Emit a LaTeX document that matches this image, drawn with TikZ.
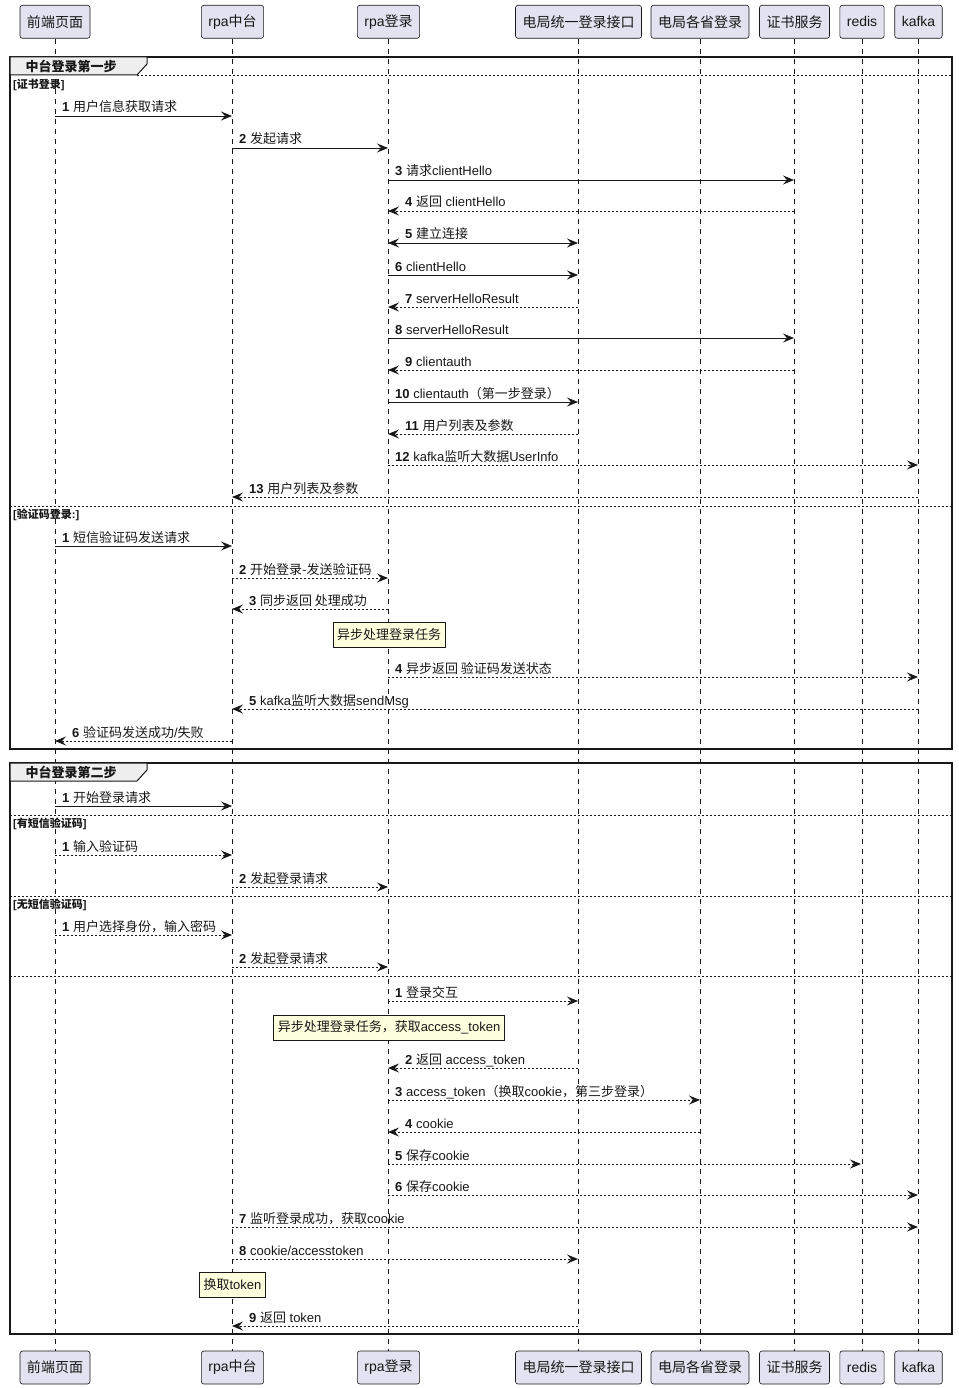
\documentclass[tikz,border=0pt]{standalone}
\usepackage{fontspec}
\setmainfont{Liberation Sans}
\newfontfamily\cjk{Noto Sans CJK SC}
\usetikzlibrary{arrows.meta}
\newcommand\C[1]{{\cjk #1}}
\definecolor{ink}{HTML}{181818}
\definecolor{partfill}{HTML}{E2E2F0}
\definecolor{notefill}{HTML}{FEFFDD}
\definecolor{tabfill}{HTML}{EEEEEE}
\tikzset{
 tip/.tip={Stealth[length=11pt,width=9pt,inset=4pt]},
 part/.style={draw=ink, fill=partfill, rounded corners=2.5pt, minimum height=33pt, inner xsep=7pt, inner ysep=0pt, font=\fontsize{14}{16}\selectfont, line width=0.6pt, text=ink},
 life/.style={draw=ink, line width=0.5pt, dash pattern=on 5pt off 5pt},
 syn/.style={draw=ink, line width=0.9pt, -tip},
 both/.style={draw=ink, line width=0.9pt, tip-tip},
 ret/.style={syn, dash pattern=on 2pt off 2pt},
 lbl/.style={anchor=base west, inner sep=0pt, font=\fontsize{13}{15}\selectfont, text=ink},
 frm/.style={draw=ink, line width=1.5pt},
 tabshape/.style={draw=ink, fill=tabfill, line width=1pt},
 tabtext/.style={inner sep=0pt, font=\fontsize{13}{15}\selectfont\bfseries, text=ink},
 sepline/.style={draw=ink, line width=0.7pt, dash pattern=on 2pt off 2pt},
 guard/.style={anchor=west, inner sep=0pt, font=\fontsize{11}{13}\selectfont\bfseries, text=ink},
 notebox/.style={draw=ink, fill=notefill, line width=0.6pt, minimum height=25pt, inner xsep=4pt, inner ysep=0pt, font=\fontsize{13}{15}\selectfont, text=ink}
}
% \M{name}{x from}{x to}{y}{style}{label x}{text}
\newcommand\M[7]{%
 \coordinate (#1s) at (#2,#4);
 \coordinate (#1e) at (#3,#4);
 \draw[#5] (#1s) -- (#1e);
 \node[lbl] (#1l) at (#6,#4-4) {#7};}
\begin{document}
\begin{tikzpicture}[x=1pt,y=-1pt]
\useasboundingbox (0,0) rectangle (958,1388);
% participants
\foreach \n/\x/\t in {p1/55/\C{前端页面}, p2/232.5/rpa\C{中台}, p3/388.5/rpa\C{登录}, p4/578.5/\C{电局统一登录接口}, p5/700/\C{电局各省登录}, p6/794.5/\C{证书服务}, p7/862/redis, p8/918.5/kafka}{
 \node[part] (\n) at (\x,21.8) {\t};
 \node[part] (\n b) at (\x,1367.5) {\t};
 \draw[life] (\n.south) -- (\n b.north);
}
% frame 1
\draw[frm] (10,57) rectangle (952,749);
\draw[tabshape] (10,57) -- (147,57) -- (147,64) -- (137,75) -- (10,75) -- cycle;
\node[tabtext] (t1) at (71,66) {\C{中台登录第一步}};
\coordinate (s0a) at (137,75); \coordinate (s0b) at (952,75);
\draw[sepline] (s0a) -- (s0b);
\node[guard] (g1) at (13,85) {[\C{证书登录}]};
\M{a1}{55}{232}{116}{syn}{62}{\textbf{1} \C{用户信息获取请求}}
\M{a2}{232}{388}{148}{syn}{239}{\textbf{2} \C{发起请求}}
\M{a3}{388}{794}{180}{syn}{395}{\textbf{3} \C{请求}clientHello}
\M{a4}{794}{388}{211}{ret}{405}{\textbf{4} \C{返回} clientHello}
\M{a5}{388}{578}{243}{both}{405}{\textbf{5} \C{建立连接}}
\M{a6}{388}{578}{275}{syn}{395}{\textbf{6} clientHello}
\M{a7}{578}{388}{307}{ret}{405}{\textbf{7} serverHelloResult}
\M{a8}{388}{794}{338}{syn}{395}{\textbf{8} serverHelloResult}
\M{a9}{794}{388}{370}{ret}{405}{\textbf{9} clientauth}
\M{a10}{388}{578}{402}{syn}{395}{\textbf{10} clientauth\C{（第一步登录）}}
\M{a11}{578}{388}{434}{ret}{405}{\textbf{11} \C{用户列表及参数}}
\M{a12}{388}{918}{465}{ret}{395}{\textbf{12} kafka\C{监听大数据}UserInfo}
\M{a13}{918}{232}{497}{ret}{249}{\textbf{13} \C{用户列表及参数}}
\coordinate (s1a) at (10,506); \coordinate (s1b) at (952,506);
\draw[sepline] (s1a) -- (s1b);
\node[guard] (g2) at (13,515) {[\C{验证码登录}:]};
\M{b1}{55}{232}{546}{syn}{62}{\textbf{1} \C{短信验证码发送请求}}
\M{b2}{232}{388}{578}{ret}{239}{\textbf{2} \C{开始登录-发送验证码}}
\M{b3}{388}{232}{609}{ret}{249}{\textbf{3} \C{同步返回 处理成功}}
\node[notebox] (n1) at (389,635) {\C{异步处理登录任务}};
\M{b4}{388}{918}{677}{ret}{395}{\textbf{4} \C{异步返回 验证码发送状态}}
\M{b5}{918}{232}{709}{ret}{249}{\textbf{5} kafka\C{监听大数据}sendMsg}
\M{b6}{232}{55}{741}{ret}{72}{\textbf{6} \C{验证码发送成功}/\C{失败}}
% frame 2
\draw[frm] (10,763) rectangle (952,1334);
\draw[tabshape] (10,763) -- (147,763) -- (147,770) -- (137,781) -- (10,781) -- cycle;
\node[tabtext] (t2) at (71,772) {\C{中台登录第二步}};
\M{c1}{55}{232}{806}{syn}{62}{\textbf{1} \C{开始登录请求}}
\coordinate (s2a) at (10,815); \coordinate (s2b) at (952,815);
\draw[sepline] (s2a) -- (s2b);
\node[guard] (g3) at (13,824) {[\C{有短信验证码}]};
\M{c2}{55}{232}{855}{ret}{62}{\textbf{1} \C{输入验证码}}
\M{c3}{232}{388}{887}{ret}{239}{\textbf{2} \C{发起登录请求}}
\coordinate (s3a) at (10,896); \coordinate (s3b) at (952,896);
\draw[sepline] (s3a) -- (s3b);
\node[guard] (g4) at (13,905) {[\C{无短信验证码}]};
\M{c4}{55}{232}{935}{ret}{62}{\textbf{1} \C{用户选择身份，输入密码}}
\M{c5}{232}{388}{967}{ret}{239}{\textbf{2} \C{发起登录请求}}
\coordinate (s4a) at (10,976); \coordinate (s4b) at (952,976);
\draw[sepline] (s4a) -- (s4b);
\M{c6}{388}{578}{1001}{ret}{395}{\textbf{1} \C{登录交互}}
\node[notebox] (n2) at (389,1027.5) {\C{异步处理登录任务，获取}access\_token};
\M{c7}{578}{388}{1068}{ret}{405}{\textbf{2} \C{返回} access\_token}
\M{c8}{388}{700}{1100}{ret}{395}{\textbf{3} access\_token\C{（换取}cookie\C{，第三步登录）}}
\M{c9}{700}{388}{1132}{ret}{405}{\textbf{4} cookie}
\M{c10}{388}{861}{1164}{ret}{395}{\textbf{5} \C{保存}cookie}
\M{c11}{388}{918}{1195}{ret}{395}{\textbf{6} \C{保存}cookie}
\M{c12}{232}{918}{1227}{ret}{239}{\textbf{7} \C{监听登录成功，获取}cookie}
\M{c13}{232}{578}{1259}{ret}{239}{\textbf{8} cookie/accesstoken}
\node[notebox] (n3) at (232.5,1284.5) {\C{换取}token};
\M{c14}{578}{232}{1326}{ret}{249}{\textbf{9} \C{返回} token}
\end{tikzpicture}
\end{document}
